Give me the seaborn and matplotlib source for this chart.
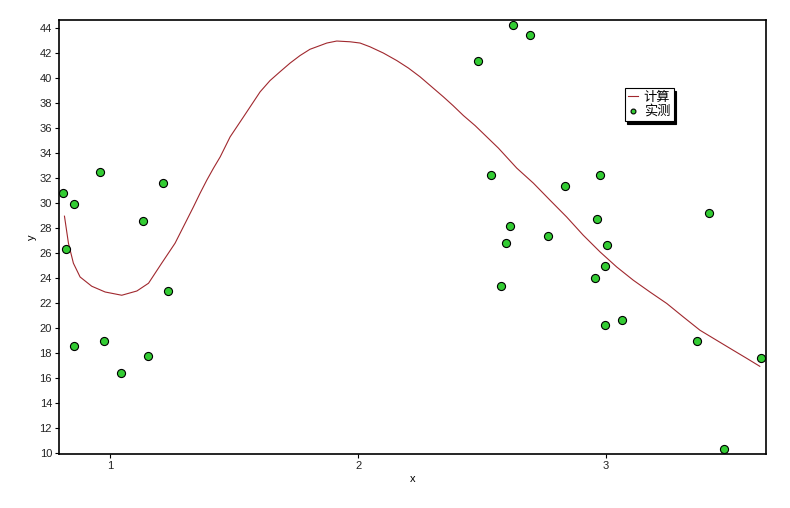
import numpy as np
import pandas as pd
import matplotlib
matplotlib.use('Agg')
import matplotlib.pyplot as plt
import seaborn as sns

# measured points (实测)
meas_x = [0.81, 0.823, 0.855, 0.855, 0.96, 0.976, 1.044, 1.133, 1.153, 1.214, 1.234,
          2.484, 2.624, 2.694, 2.535, 2.612, 2.597, 2.575, 2.765, 2.833, 2.976, 2.962,
          3.004, 2.996, 2.954, 2.996, 3.063, 3.366, 3.415, 3.475, 3.624]
meas_y = [30.8, 26.3, 29.9, 18.6, 32.5, 19.0, 16.4, 28.6, 17.8, 31.6, 23.0,
          41.4, 44.26, 43.46, 32.27, 28.2, 26.8, 23.4, 27.36, 31.4, 32.27, 28.7,
          26.64, 24.98, 24.03, 20.26, 20.64, 18.98, 29.22, 10.32, 17.6]

# calculated curve (计算)
calc_x = [0.816, 0.832, 0.852, 0.879, 0.926, 0.98, 1.047, 1.108, 1.155, 1.208, 1.262,
          1.309, 1.336, 1.363, 1.39, 1.417, 1.444, 1.484, 1.511, 1.538, 1.605, 1.645,
          1.685, 1.726, 1.766, 1.806, 1.847, 1.874, 1.914, 1.968, 2.008, 2.048, 2.102,
          2.156, 2.203, 2.25, 2.297, 2.344, 2.383, 2.425, 2.472, 2.519, 2.566, 2.64,
          2.707, 2.774, 2.841, 2.908, 2.976, 3.043, 3.11, 3.177, 3.245, 3.312, 3.379,
          3.446, 3.513, 3.567, 3.62]
calc_y = [28.96, 26.8, 25.2, 24.1, 23.36, 22.9, 22.64, 22.98, 23.6, 25.2, 26.8,
          28.64, 29.7, 30.8, 31.84, 32.8, 33.7, 35.3, 36.1, 36.9, 38.9, 39.8,
          40.5, 41.2, 41.8, 42.3, 42.6, 42.8, 42.96, 42.9, 42.8, 42.5, 42.0,
          41.4, 40.8, 40.1, 39.3, 38.5, 37.8, 37.0, 36.2, 35.3, 34.4, 32.8,
          31.6, 30.24, 28.9, 27.44, 26.1, 24.9, 23.84, 22.9, 21.98, 20.9, 19.84,
          19.04, 18.24, 17.6, 16.96]

plt.rcParams['font.family'] = ['Liberation Sans', 'Noto Sans CJK SC', 'DejaVu Sans']

fig = plt.figure(figsize=(7.9, 5.08), dpi=100)
ax = fig.add_axes([0.0747, 0.1063, 0.8949, 0.8543])

sns.lineplot(x=calc_x, y=calc_y, color='#a0282e', linewidth=0.8, sort=False,
             label='计算', ax=ax)
sns.scatterplot(x=meas_x, y=meas_y, color='#33cc33', edgecolor='black', linewidth=0.8,
                s=34, label='实测', ax=ax, zorder=3)

ax.set_xlim(0.794, 3.645)
ax.set_ylim(9.95, 44.64)
ax.set_xticks([1, 2, 3])
ax.set_yticks(np.arange(10, 45, 2))
ax.tick_params(labelsize=8, length=3, width=0.8, direction='out', pad=2,
               labelcolor='#222222')
ax.set_xlabel('x', fontsize=8, labelpad=2)
ax.set_ylabel('y', fontsize=8, labelpad=2)
for sp in ax.spines.values():
    sp.set_linewidth(1.2)
    sp.set_color('black')

leg = ax.legend(loc='upper left', bbox_to_anchor=(0.80, 0.843), fontsize=9.5,
                fancybox=False, framealpha=1, edgecolor='black',
                shadow={'color': 'black', 'alpha': 1},
                handlelength=0.8, handletextpad=0.4, borderpad=0.25,
                labelspacing=0.1, borderaxespad=0, markerscale=0.6)
leg.get_frame().set_linewidth(0.8)

fig.savefig('out.png', dpi=100)
